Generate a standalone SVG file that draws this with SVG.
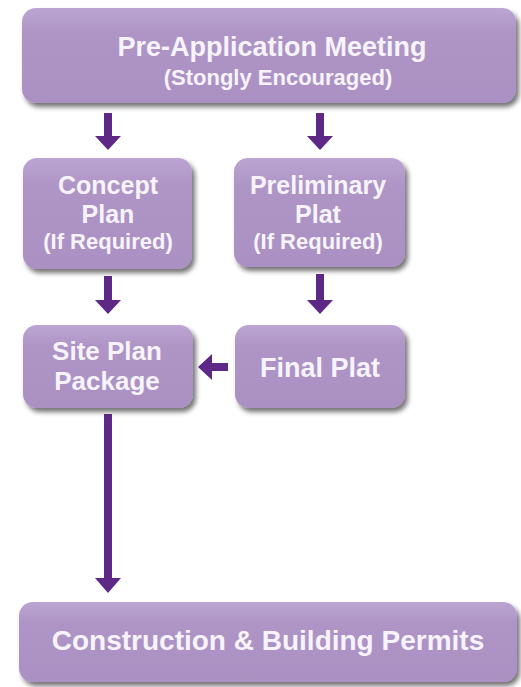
<svg xmlns="http://www.w3.org/2000/svg" width="521" height="687" viewBox="0 0 521 687">
<defs>
<linearGradient id="g" x1="0" y1="0" x2="0" y2="1">
<stop offset="0" stop-color="#bca5d2"/>
<stop offset="0.25" stop-color="#ae95c6"/>
<stop offset="1" stop-color="#ab91c3"/>
</linearGradient>
<filter id="sh" x="-10%" y="-10%" width="125%" height="130%">
<feGaussianBlur in="SourceAlpha" stdDeviation="2.5"/>
<feOffset dx="3" dy="4" result="b"/>
<feComponentTransfer><feFuncA type="linear" slope="0.55"/></feComponentTransfer>
<feMerge><feMergeNode/><feMergeNode in="SourceGraphic"/></feMerge>
</filter>
</defs>
<style>
.box{fill:url(#g);filter:url(#sh)}
.t{font-family:"Liberation Sans",Arial,sans-serif;font-weight:bold;fill:#f7f3fa;text-anchor:middle}
.big{font-size:27px}
.mid{font-size:25px}
.sp{font-size:26px}
.sub{font-size:22px}
.arr{fill:#5d2886}
</style>
<g id="connectors" class="arr">
<polygon points="104,113 112,113 112,136 121,136 108,150 95,136 104,136"/>
<polygon points="316,113 324,113 324,136 333,136 320,150 307,136 316,136"/>
<polygon points="104,276 112,276 112,300 121,300 108,314 95,300 104,300"/>
<polygon points="316,274 324,274 324,300 333,300 320,314 307,300 316,300"/>
<polygon points="228,363 228,371 212,371 212,380 198,367 212,354 212,363"/>
<polygon points="104,414 112,414 112,578 121,578 108,593 95,578 104,578"/>
</g>
<g id="pre-application">
<rect class="box" x="22" y="8" width="494" height="95" rx="14"/>
<text class="t big" x="272" y="56">Pre-Application Meeting</text>
<text class="t sub" x="278" y="85">(Stongly Encouraged)</text>
</g>
<g id="concept-plan">
<rect class="box" x="23" y="158" width="169" height="111" rx="14"/>
<text class="t mid" x="108" y="194">Concept</text>
<text class="t mid" x="108" y="223">Plan</text>
<text class="t sub" x="108" y="249">(If Required)</text>
</g>
<g id="preliminary-plat">
<rect class="box" x="234" y="158" width="171" height="109" rx="14"/>
<text class="t mid" x="318" y="194">Preliminary</text>
<text class="t mid" x="318" y="223">Plat</text>
<text class="t sub" x="318" y="249">(If Required)</text>
</g>
<g id="site-plan-package">
<rect class="box" x="23" y="325" width="170" height="83" rx="14"/>
<text class="t sp" x="107" y="360">Site Plan</text>
<text class="t sp" x="107" y="390">Package</text>
</g>
<g id="final-plat">
<rect class="box" x="235" y="325" width="170" height="83" rx="14"/>
<text class="t big" x="320" y="377">Final Plat</text>
</g>
<g id="construction">
<rect class="box" x="19" y="602" width="498" height="80" rx="14"/>
<text class="t big" x="268" y="650" style="font-size:28px">Construction &amp; Building Permits</text>
</g>
</svg>
